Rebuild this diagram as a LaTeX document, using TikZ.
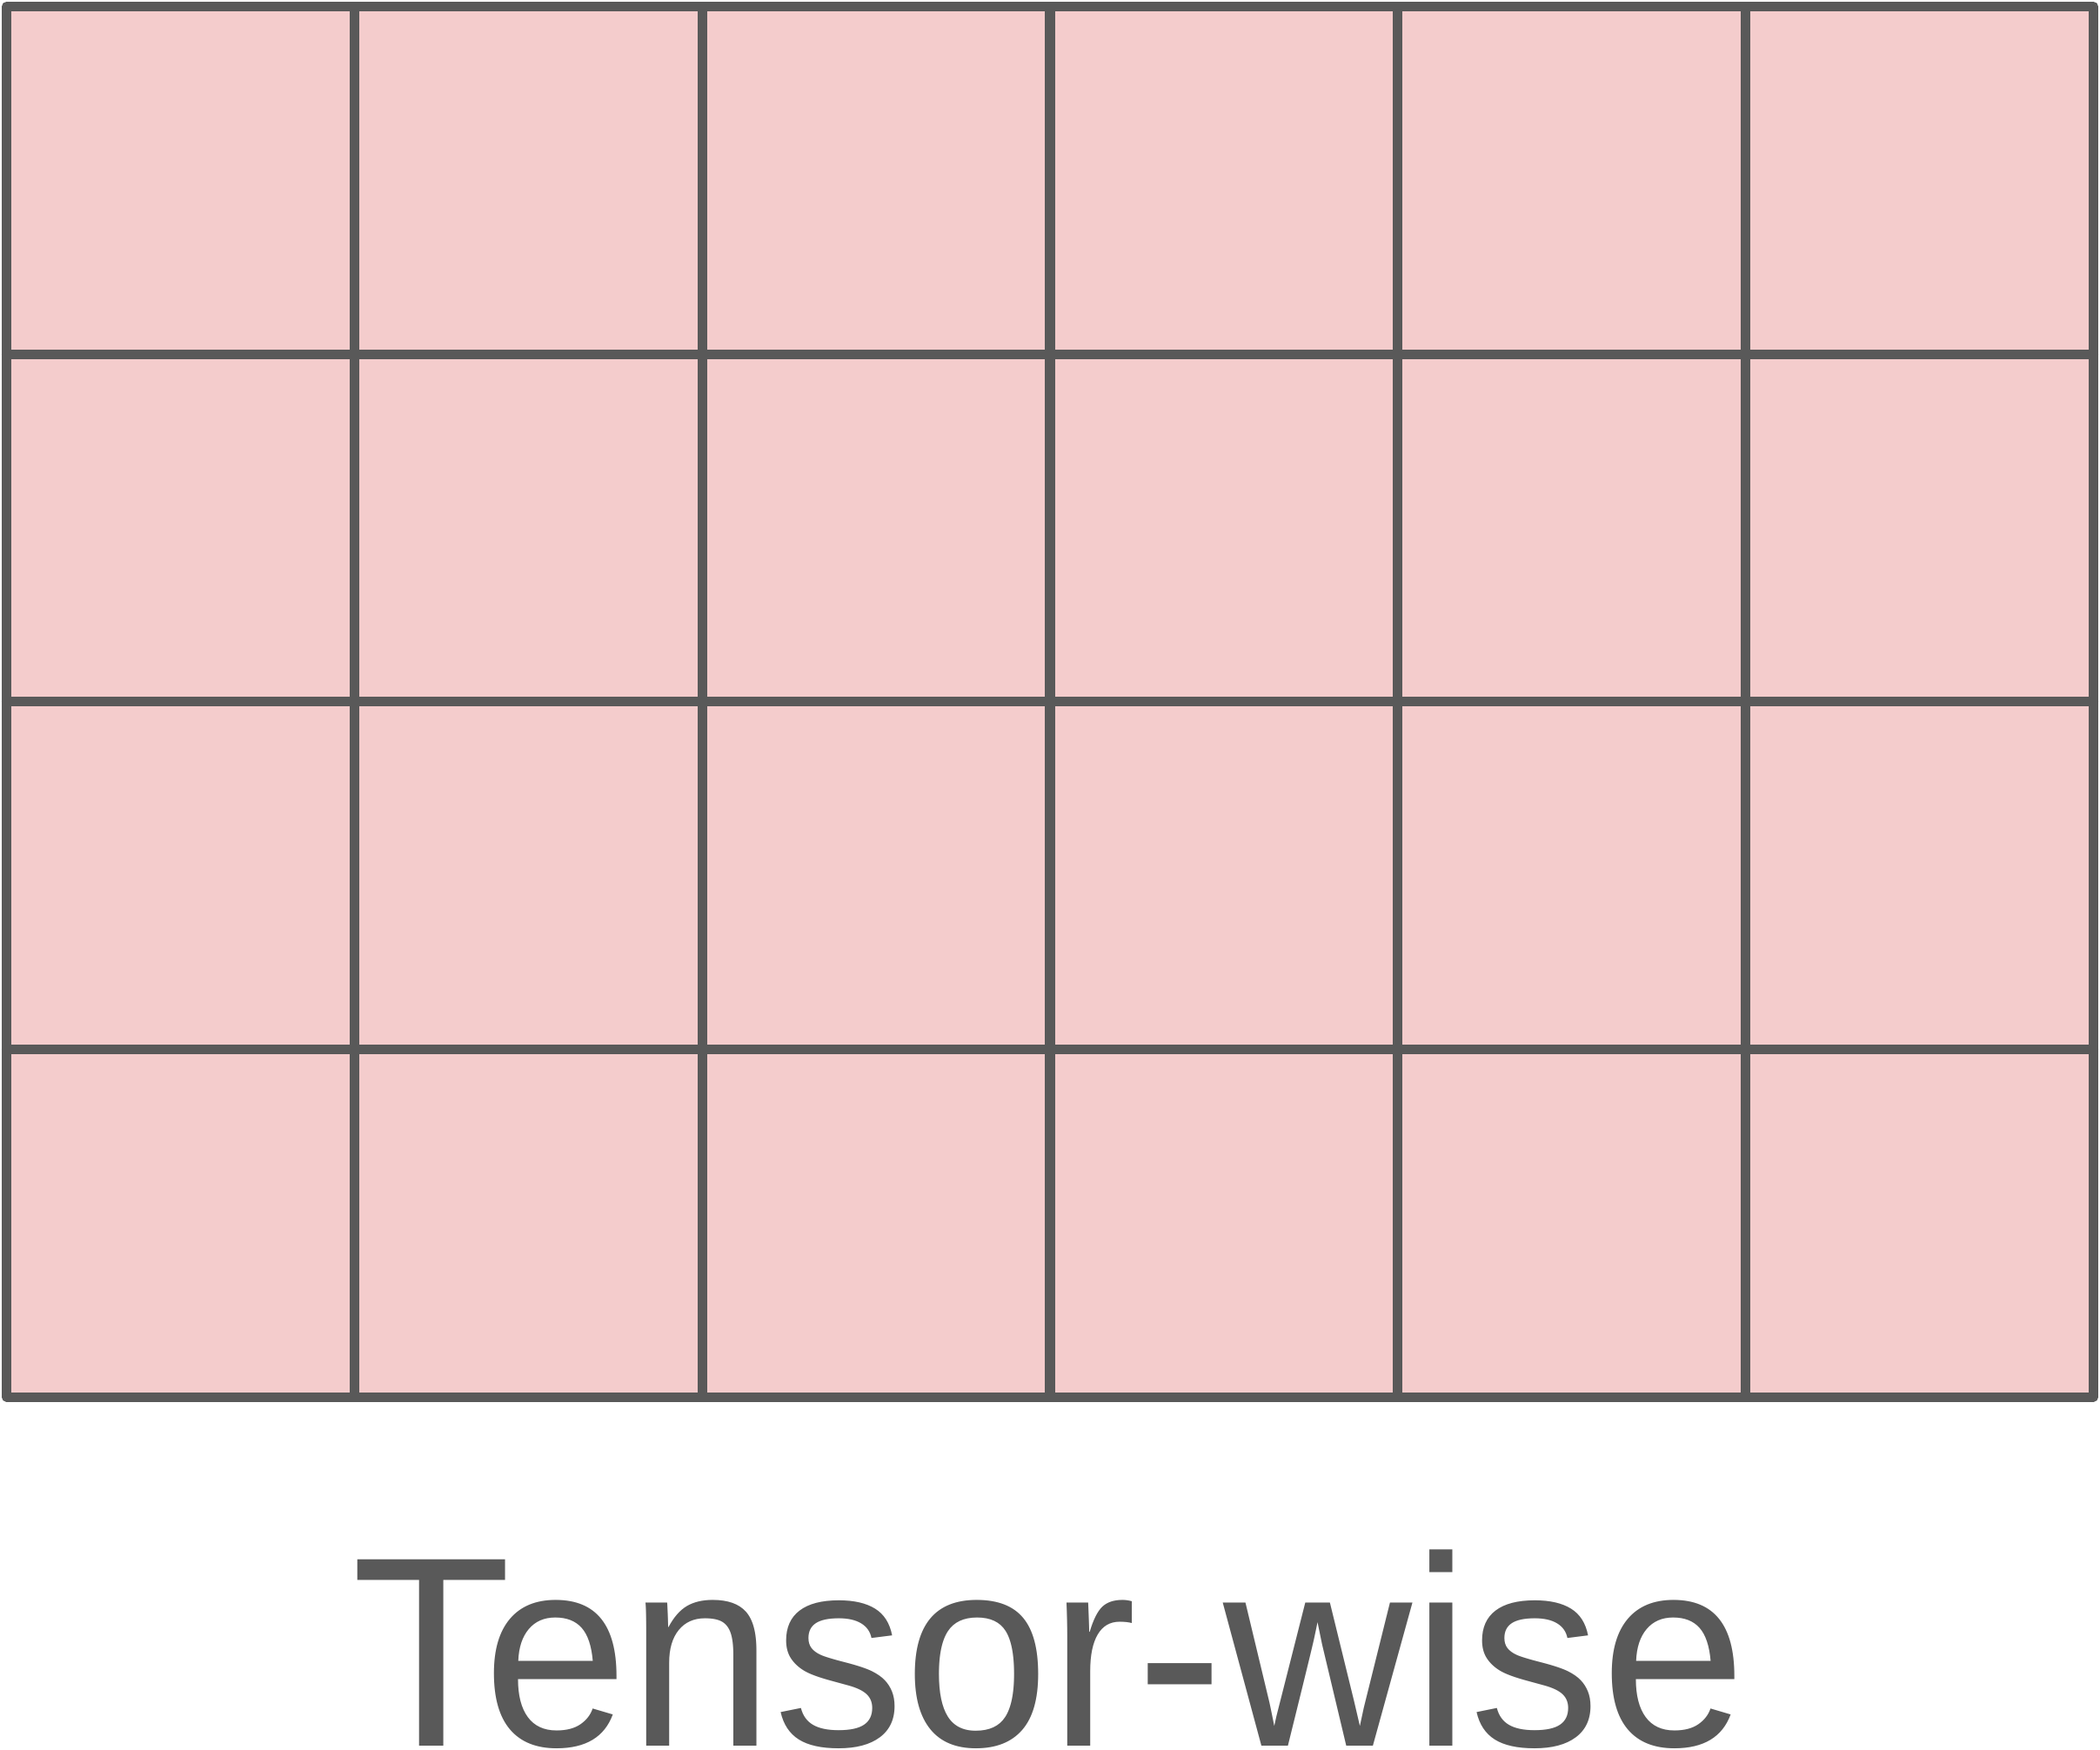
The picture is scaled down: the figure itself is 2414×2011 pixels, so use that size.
\documentclass[tikz,border=0pt]{standalone}
\usepackage{fontspec}
\setmainfont{Liberation Sans}
\definecolor{cellfill}{HTML}{F4CCCC}
\definecolor{gridline}{HTML}{595959}
\begin{document}
\begin{tikzpicture}[x=0.01cm,y=-0.01cm,
  gridstyle/.style={draw=gridline,line width=0.11cm,line join=round,line cap=round},
  labelstyle/.style={text=gridline,font=\fontsize{85.4pt}{100pt}\selectfont,inner sep=0pt,anchor=base,text depth=0pt}]
\useasboundingbox (0,0) rectangle (2414,2011);
\fill[cellfill] (7.5,7.5) rectangle (2406.5,1606);
\foreach \i in {1,...,5} {
  \draw[gridstyle] ({7.5+399.83*\i},7.5) -- ({7.5+399.83*\i},1606);
}
\foreach \j in {1,...,3} {
  \draw[gridstyle] (7.5,{7.5+399.625*\j}) -- (2406.5,{7.5+399.625*\j});
}
\draw[gridstyle] (7.5,7.5) rectangle (2406.5,1606);
\node[labelstyle] (label) at (1206,2007) {\scalebox{1}[1.037]{Tensor-wise}};
\end{tikzpicture}
\end{document}
